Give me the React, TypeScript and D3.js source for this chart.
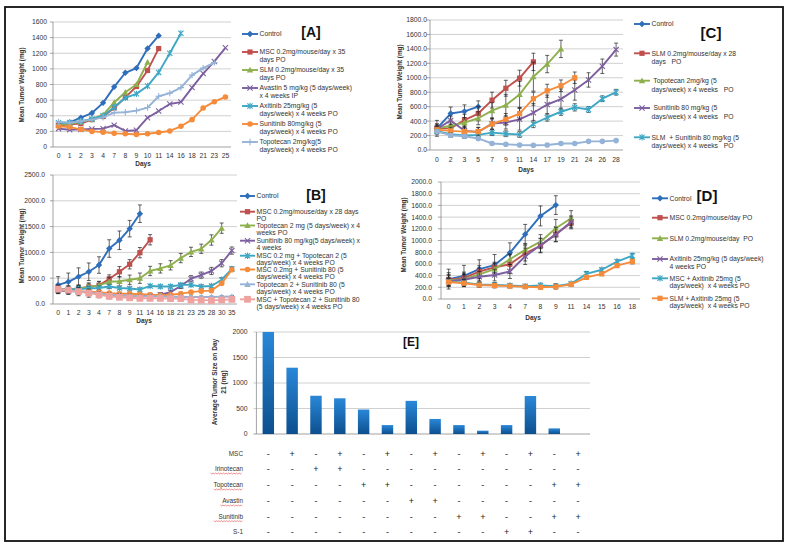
import React from 'react';
import * as d3 from 'd3';

const FONT = "'Liberation Sans', Arial, sans-serif";

// ---------- Panel A ----------
const A_days = ['0','1','2','3','4','7','8','9','10','11','14','16','18','21','23','25'];
const A_control = [295, 315, 375, 435, 565, 770, 950, 1010, 1260, 1425];
const A_msc = [275, 290, 300, 350, 390, 500, 635, 775, 980, 1260];
const A_slm = [280, 300, 320, 360, 410, 570, 700, 800, 1085];
const A_avastin = [235, 220, 225, 230, 235, 280, 205, 215, 375, 460, 550, 575, 760, 940, 1095, 1270];
const A_axitinib = [310, 315, 330, 360, 400, 510, 630, 680, 780, 955, 1200, 1455];
const A_sunitinib = [265, 255, 225, 200, 190, 175, 170, 160, 170, 185, 205, 265, 350, 500, 580, 640];
const A_topotecan = [320, 310, 330, 350, 380, 440, 445, 465, 505, 650, 690, 760, 920, 1010, 1080];
const A_legend = [
  ['Control'],
  ['MSC 0.2mg/mouse/day x 35', 'days PO'],
  ['SLM 0.2mg/mouse/day x 35', 'days PO'],
  ['Avastin 5 mg/kg (5 days/week)', 'x 4 weeks IP'],
  ['Axitinib 25mg/kg (5', 'days/week) x 4 weeks PO'],
  ['Sunitinib 80mg/kg (5', 'days/week) x 4 weeks PO'],
  ['Topotecan 2mg/kg(5', 'days/week) x 4 weeks PO'],
];

// ---------- Panel B ----------
const B_days = ['0','1','2','3','4','7','8','9','11','14','16','18','21','23','25','28','30','35'];
const B_control = [370, 430, 530, 625, 755, 1075, 1235, 1460, 1750];
const B_control_err = [160, 170, 170, 170, 160, 170, 180, 160, 170];
const B_msc = [290, 280, 300, 330, 360, 485, 625, 770, 995, 1245];
const B_msc_err = [60, 60, 60, 60, 70, 80, 100, 90, 100, 100];
const B_topotecan = [290, 280, 300, 330, 360, 430, 440, 470, 500, 640, 690, 750, 890, 1010, 1070, 1240, 1470];
const B_topotecan_err = [70, 70, 70, 80, 80, 90, 90, 90, 100, 90, 90, 90, 90, 90, 90, 100, 100];
const B_sunitinib = [260, 250, 240, 220, 200, 180, 170, 165, 160, 160, 180, 230, 350, 490, 560, 640, 790, 1035];
const B_sunitinib_err = [60, 60, 60, 60, 50, 40, 40, 40, 40, 40, 40, 40, 50, 60, 60, 70, 70, 70];
const B_mscTopo = [280, 280, 290, 300, 310, 340, 310, 300, 280, 350, 340, 340, 370, 370, 340, 350, 470, 680];
const B_mscTopo_err = [40, 40, 40, 40, 40, 40, 30, 30, 30, 30, 30, 30, 30, 30, 30, 30, 40, 40];
const B_mscSun = [270, 260, 250, 240, 230, 210, 200, 200, 190, 180, 170, 180, 200, 230, 250, 260, 400, 665];
const B_mscSun_err = [50, 50, 40, 40, 40, 30, 30, 30, 30, 30, 30, 30, 30, 30, 30, 30, 30, 30];
const B_topoSun = [280, 260, 240, 220, 200, 180, 170, 160, 150, 150, 145, 140, 135, 135, 135, 135, 140, 145];
const B_topoSun_err = [50, 50, 50, 40, 40, 30, 30, 30, 20, 20, 20, 20, 20, 20, 20, 20, 20, 20];
const B_mscTopoSun = [290, 270, 240, 210, 180, 150, 130, 120, 110, 110, 110, 105, 105, 80, 75, 70, 80, 90];
const B_mscTopoSun_err = [80, 80, 80, 80, 60, 50, 40, 30, 30, 30, 30, 30, 30, 20, 20, 20, 20, 20];
const B_legend = [
  ['Control'],
  ['MSC 0.2mg/mouse/day x 28 days', 'PO'],
  ['Topotecan 2 mg (5 days/week) x 4', 'weeks PO'],
  ['Sunitinib 80 mg/kg(5 days/week) x', '4 weeks'],
  ['MSC 0.2 mg + Topotecan 2 (5', 'days/week) x 4 weeks PO'],
  ['MSC 0.2mg + Sunitinib 80 (5', 'days/week) x 4 weeks PO'],
  ['Topotecan 2 + Sunitinib 80 (5', 'days/week) x 4 weeks PO'],
  ['MSC + Topotecan 2 + Sunitinib 80', '(5 days/week) x 4 weeks PO'],
];

// ---------- Panel C ----------
const C_days = ['0','2','3','5','7','9','11','14','17','19','21','24','26','28'];
const C_control = [300, 505, 535, 600];
const C_control_err = [110, 90, 90, 80];
const C_slm = [300, 300, 415, 505, 690, 855, 995, 1220];
const C_slm_err = [60, 60, 80, 100, 110, 110, 110, 120];
const C_topotecan = [300, 335, 380, 440, 545, 620, 770, 1015, 1190, 1400];
const C_topotecan_err = [60, 60, 70, 90, 110, 150, 180, 200, 120, 120];
const C_sunitinib = [290, 410, 265, 250, 365, 380, 425, 515, 630, 705, 830, 970, 1160, 1390];
const C_sunitinib_err = [50, 60, 60, 60, 80, 90, 150, 130, 130, 140, 140, 100, 100, 90];
const C_slmSun = [260, 220, 200, 210, 240, 225, 215, 360, 450, 530, 590, 560, 710, 800];
const C_slmSun_err = [40, 40, 40, 40, 40, 40, 40, 50, 50, 50, 50, 40, 40, 40];
const C_other1 = [280, 265, 255, 255, 360, 425, 505, 710, 820, 890, 1000];
const C_other1_err = [50, 50, 50, 60, 70, 80, 80, 90, 90, 80, 80];
const C_other2 = [255, 205, 190, 160, 90, 80, 70, 65, 70, 90, 90, 120, 120, 130];
const C_other2_err = [30, 30, 20, 20, 15, 10, 10, 10, 10, 10, 10, 10, 10, 10];
const C_legend = [
  ['Control'],
  ['SLM 0.2mg/mouse/day x 28', 'days   PO'],
  [' Topotecan 2mg/kg (5', 'days/week) x 4 weeks   PO'],
  [' Sunitinib 80 mg/kg (5', 'days/week) x 4 weeks   PO'],
  ['SLM  + Sunitinib 80 mg/kg (5', 'days/week) x 4 weeks   PO'],
];

// ---------- Panel D ----------
const D_days = ['0','1','2','3','4','7','8','9','11','14','15','16','18'];
const D_control = [340, 395, 510, 580, 790, 1105, 1420, 1605];
const D_control_err = [170, 180, 160, 180, 170, 170, 170, 160];
const D_msc = [330, 360, 470, 540, 595, 780, 910, 1110, 1300];
const D_msc_err = [120, 100, 100, 90, 160, 130, 120, 130, 100];
const D_slm = [320, 340, 420, 510, 680, 840, 980, 1210, 1380];
const D_slm_err = [100, 100, 110, 100, 90, 110, 120, 150, 130];
const D_axitinib = [310, 330, 380, 410, 470, 730, 920, 1100, 1320];
const D_axitinib_err = [90, 90, 90, 100, 120, 140, 120, 120, 100];
const D_mscAxi = [300, 280, 250, 240, 230, 220, 230, 220, 260, 430, 500, 640, 740];
const D_mscAxi_err = [60, 60, 40, 40, 30, 30, 40, 40, 30, 40, 30, 30, 40];
const D_slmAxi = [290, 270, 240, 230, 220, 210, 200, 210, 250, 370, 430, 570, 640];
const D_slmAxi_err = [60, 60, 40, 40, 30, 30, 30, 40, 30, 30, 30, 30, 40];
const D_legend = [
  ['Control'],
  ['MSC 0.2mg/mouse/day PO'],
  ['SLM 0.2mg/mouse/day  PO'],
  ['Axitinib 25mg/kg (5 days/week)', '4 weeks PO'],
  ['MSC + Axitinib 25mg (5', 'days/week)  x 4 weeks PO'],
  ['SLM + Axitinib 25mg (5', 'days/week)  x 4 weeks PO'],
];

// ---------- Panel E ----------
const E_groups = ['1','2','3','4','5','6','7','8','9','10','11','12','13','14'];
const E_values = [2000, 1300, 750, 700, 480, 175, 650, 295, 175, 65, 175, 745, 110, 0];
const E_rowNames = ['MSC', 'Irinotecan', 'Topotecan', 'Avastin', 'Sunitinib', 'S-1'];
const E_MSC        = ['-','+','-','+','-','+','-','+','-','+','-','+','-','+'];
const E_Irinotecan = ['-','-','+','+','-','-','-','-','-','-','-','-','-','-'];
const E_Topotecan  = ['-','-','-','-','+','+','-','-','-','-','-','-','+','+'];
const E_Avastin    = ['-','-','-','-','-','-','+','+','-','-','-','-','-','-'];
const E_Sunitinib  = ['-','-','-','-','-','-','-','-','+','+','-','-','+','+'];
const E_S1         = ['-','-','-','-','-','-','-','-','-','-','+','+','-','-'];
const E_rows = [E_MSC, E_Irinotecan, E_Topotecan, E_Avastin, E_Sunitinib, E_S1];

const COL = {
  blue: '#2F6EBA', red: '#C0504D', green: '#8FB04F', purple: '#7D5FA0',
  cyan: '#3EA7C4', orange: '#F58C3C', lblue: '#95B3D7', pink: '#EFA3A1',
};

type Series = { values: number[]; err?: number[]; color: string; marker: string };

function Marker({ type, x, y, color }: { type: string; x: number; y: number; color: string }) {
  const s = 2.6;
  switch (type) {
    case 'diamond':
      return <path d={`M${x},${y - 3.2}L${x + 3.2},${y}L${x},${y + 3.2}L${x - 3.2},${y}Z`} fill={color} />;
    case 'square':
      return <rect x={x - s} y={y - s} width={2 * s} height={2 * s} fill={color} />;
    case 'bigsquare':
      return <rect x={x - 3.4} y={y - 3.4} width={6.8} height={6.8} fill={color} />;
    case 'triangle':
      return <path d={`M${x},${y - 3.2}L${x + 3.2},${y + 2.6}L${x - 3.2},${y + 2.6}Z`} fill={color} />;
    case 'x':
      return <path d={`M${x - s},${y - s}L${x + s},${y + s}M${x - s},${y + s}L${x + s},${y - s}`} stroke={color} strokeWidth={1.1} fill="none" />;
    case 'star':
      return <path d={`M${x - s},${y - s}L${x + s},${y + s}M${x - s},${y + s}L${x + s},${y - s}M${x},${y - 3.2}L${x},${y + 3.2}`} stroke={color} strokeWidth={1.1} fill="none" />;
    case 'circle':
      return <circle cx={x} cy={y} r={2.8} fill={color} />;
    case 'plus':
      return <path d={`M${x - 3.2},${y}L${x + 3.2},${y}M${x},${y - 3.2}L${x},${y + 3.2}`} stroke={color} strokeWidth={1.1} fill="none" />;
    default:
      return null;
  }
}

type PanelCfg = {
  days: string[]; left: number; right: number; y0: number; yTop: number; yMax: number; step: number;
  dec: boolean; labelRight: number; tickY: number; daysX: number; daysY: number; titleX: number; titleY: number;
  series: Series[]; legend: string[][]; legX1: number; legX2: number; legTextX: number; legY: number[]; legLH: number;
  tag: string; tagX: number; tagY: number; tagSize: number; errors: boolean;
};

function LinePanel({ cfg }: { cfg: PanelCfg }) {
  const x = d3.scaleBand().domain(cfg.days).range([cfg.left, cfg.right]);
  const y = d3.scaleLinear().domain([0, cfg.yMax]).range([cfg.y0, cfg.yTop]);
  const ticks = d3.range(0, cfg.yMax + 1e-6, cfg.step);
  const cx = (i: number) => (x(cfg.days[i]) as number) + x.bandwidth() / 2;
  const fmt = cfg.dec ? d3.format('.1f') : d3.format('d');
  const line = d3.line<number>().x((_, i) => cx(i)).y((d) => y(d));
  return (
    <g>
      {ticks.map((t) => (
        <g key={t}>
          {t > 0 && <line x1={cfg.left} x2={cfg.right} y1={y(t)} y2={y(t)} stroke="#C4C4C4" strokeWidth={0.8} />}
          <line x1={cfg.left - 3} x2={cfg.left} y1={y(t)} y2={y(t)} stroke="#8C8C8C" strokeWidth={0.8} />
          <text x={cfg.labelRight} y={y(t) + 2.4} fontSize={6.8} textAnchor="end" fill="#333" fontFamily={FONT}>{fmt(t)}</text>
        </g>
      ))}
      <line x1={cfg.left} x2={cfg.left} y1={cfg.yTop} y2={cfg.y0} stroke="#8C8C8C" strokeWidth={0.8} />
      <line x1={cfg.left} x2={cfg.right} y1={cfg.y0} y2={cfg.y0} stroke="#8C8C8C" strokeWidth={0.8} />
      {cfg.days.map((d, i) => (
        <text key={d} x={cx(i)} y={cfg.tickY} fontSize={6.8} textAnchor="middle" fill="#333" fontFamily={FONT}>{d}</text>
      ))}
      <text x={cfg.daysX} y={cfg.daysY} fontSize={6.5} fontWeight="bold" textAnchor="middle" fill="#333" fontFamily={FONT}>Days</text>
      <text transform={`translate(${cfg.titleX},${cfg.titleY}) rotate(-90)`} fontSize={6.3} fontWeight="bold" textAnchor="middle" fill="#333" fontFamily={FONT}>Mean Tumor Weight (mg)</text>
      {cfg.series.map((s, si) => (
        <g key={si}>
          {cfg.errors && s.err && s.values.map((v, i) => {
            const e = s.err![i] ?? 0;
            const X = cx(i);
            return (
              <path key={i} d={`M${X},${y(v + e)}L${X},${y(Math.max(0, v - e))}M${X - 2},${y(v + e)}L${X + 2},${y(v + e)}M${X - 2},${y(Math.max(0, v - e))}L${X + 2},${y(Math.max(0, v - e))}`} stroke="#222" strokeWidth={0.7} fill="none" />
            );
          })}
          <path d={line(s.values) || ''} fill="none" stroke={s.color} strokeWidth={1.9} strokeLinejoin="round" />
          {s.values.map((v, i) => (
            <Marker key={i} type={s.marker} x={cx(i)} y={y(v)} color={s.color} />
          ))}
        </g>
      ))}
      {cfg.legend.map((lines, li) => {
        const s = cfg.series[li];
        const ly = cfg.legY[li];
        return (
          <g key={li}>
            <line x1={cfg.legX1} x2={cfg.legX2} y1={ly} y2={ly} stroke={s.color} strokeWidth={1.9} />
            <Marker type={s.marker} x={(cfg.legX1 + cfg.legX2) / 2} y={ly} color={s.color} />
            {lines.map((t, k) => (
              <text key={k} x={cfg.legTextX} y={ly + 2.4 + k * cfg.legLH} fontSize={6.8} fill="#333" fontFamily={FONT} style={{ whiteSpace: 'pre' }}>{t}</text>
            ))}
          </g>
        );
      })}
      <text x={cfg.tagX} y={cfg.tagY} fontSize={cfg.tagSize} fontWeight="bold" textAnchor="middle" fill="#111" fontFamily={FONT}>{cfg.tag}</text>
    </g>
  );
}

const panelA: PanelCfg = {
  days: A_days, left: 53, right: 231, y0: 147, yTop: 22, yMax: 1600, step: 200, dec: false, labelRight: 47,
  tickY: 157.5, daysX: 143, daysY: 165.5, titleX: 24, titleY: 85,
  series: [
    { values: A_control, color: COL.blue, marker: 'diamond' },
    { values: A_msc, color: COL.red, marker: 'square' },
    { values: A_slm, color: COL.green, marker: 'triangle' },
    { values: A_avastin, color: COL.purple, marker: 'x' },
    { values: A_axitinib, color: COL.cyan, marker: 'star' },
    { values: A_sunitinib, color: COL.orange, marker: 'circle' },
    { values: A_topotecan, color: COL.lblue, marker: 'plus' },
  ],
  legend: A_legend, legX1: 242, legX2: 258, legTextX: 259.5, legY: [34, 52, 70, 88, 106, 124, 142], legLH: 7.4,
  tag: '[A]', tagX: 311, tagY: 37, tagSize: 14, errors: false,
};

const panelB: PanelCfg = {
  days: B_days, left: 53, right: 237, y0: 304, yTop: 175, yMax: 2500, step: 500, dec: true, labelRight: 45,
  tickY: 314.5, daysX: 144, daysY: 323, titleX: 24, titleY: 246,
  series: [
    { values: B_control, err: B_control_err, color: COL.blue, marker: 'diamond' },
    { values: B_msc, err: B_msc_err, color: COL.red, marker: 'square' },
    { values: B_topotecan, err: B_topotecan_err, color: COL.green, marker: 'triangle' },
    { values: B_sunitinib, err: B_sunitinib_err, color: COL.purple, marker: 'x' },
    { values: B_mscTopo, err: B_mscTopo_err, color: COL.cyan, marker: 'star' },
    { values: B_mscSun, err: B_mscSun_err, color: COL.orange, marker: 'circle' },
    { values: B_topoSun, err: B_topoSun_err, color: COL.lblue, marker: 'triangle' },
    { values: B_mscTopoSun, err: B_mscTopoSun_err, color: COL.pink, marker: 'bigsquare' },
  ],
  legend: B_legend, legX1: 240, legX2: 255, legTextX: 256.5, legY: [196, 211.7, 225.5, 240.7, 255.7, 269.5, 284.3, 299.3], legLH: 7.3,
  tag: '[B]', tagX: 316, tagY: 200, tagSize: 14, errors: true,
};

const panelC: PanelCfg = {
  days: C_days, left: 430, right: 623, y0: 150, yTop: 20, yMax: 1800, step: 200, dec: true, labelRight: 427,
  tickY: 162, daysX: 526, daysY: 171.5, titleX: 402, titleY: 82,
  series: [
    { values: C_control, err: C_control_err, color: COL.blue, marker: 'diamond' },
    { values: C_slm, err: C_slm_err, color: COL.red, marker: 'square' },
    { values: C_topotecan, err: C_topotecan_err, color: COL.green, marker: 'triangle' },
    { values: C_sunitinib, err: C_sunitinib_err, color: COL.purple, marker: 'x' },
    { values: C_slmSun, err: C_slmSun_err, color: COL.cyan, marker: 'star' },
    { values: C_other1, err: C_other1_err, color: COL.orange, marker: 'square' },
    { values: C_other2, err: C_other2_err, color: COL.lblue, marker: 'circle' },
  ],
  legend: C_legend, legX1: 634, legX2: 650, legTextX: 651.5, legY: [24, 53.3, 80.7, 108, 137.3], legLH: 8.6,
  tag: '[C]', tagX: 711, tagY: 37.5, tagSize: 15, errors: true,
};

const panelD: PanelCfg = {
  days: D_days, left: 441, right: 640, y0: 299, yTop: 182, yMax: 2000, step: 200, dec: true, labelRight: 432,
  tickY: 309, daysX: 533, daysY: 319.5, titleX: 406, titleY: 235,
  series: [
    { values: D_control, err: D_control_err, color: COL.blue, marker: 'diamond' },
    { values: D_msc, err: D_msc_err, color: COL.red, marker: 'square' },
    { values: D_slm, err: D_slm_err, color: COL.green, marker: 'triangle' },
    { values: D_axitinib, err: D_axitinib_err, color: COL.purple, marker: 'x' },
    { values: D_mscAxi, err: D_mscAxi_err, color: COL.cyan, marker: 'star' },
    { values: D_slmAxi, err: D_slmAxi_err, color: COL.orange, marker: 'square' },
  ],
  legend: D_legend, legX1: 652, legX2: 668, legTextX: 669.5, legY: [198.3, 217.7, 238.3, 259, 278.3, 298.3], legLH: 7.7,
  tag: '[D]', tagX: 707, tagY: 200.5, tagSize: 15, errors: true,
};

function PanelE() {
  const left = 256.4, right = 590, y0 = 434, yTop = 332;
  const x = d3.scaleBand().domain(E_groups).range([left, right]);
  const y = d3.scaleLinear().domain([0, 2000]).range([y0, yTop]);
  const ticks = d3.range(0, 2001, 500);
  const bw = x.bandwidth() * 0.48;
  const rowY = [453.3, 469, 485, 501, 516.7, 531.7];
  return (
    <g>
      <defs>
        <linearGradient id="barGrad" x1="0" y1="0" x2="0" y2="1">
          <stop offset="0" stopColor="#2A88D8" />
          <stop offset="1" stopColor="#0C4F8E" />
        </linearGradient>
      </defs>
      {ticks.map((t) => (
        <g key={t}>
          <line x1={left - 3} x2={right} y1={y(t)} y2={y(t)} stroke={t === 0 ? '#8C8C8C' : '#C4C4C4'} strokeWidth={0.8} />
          <text x={247.5} y={y(t) + 2.4} fontSize={6.8} textAnchor="end" fill="#333" fontFamily={FONT}>{t}</text>
        </g>
      ))}
      <line x1={left} x2={left} y1={yTop} y2={y0} stroke="#8C8C8C" strokeWidth={0.8} />
      {E_values.map((v, i) => v > 0 && (
        <rect key={i} x={(x(E_groups[i]) as number) + (x.bandwidth() - bw) / 2} y={y(v)} width={bw} height={y0 - y(v)} fill="url(#barGrad)" />
      ))}
      <text transform="translate(217,382) rotate(-90)" fontSize={6.6} fontWeight="bold" textAnchor="middle" fill="#333" fontFamily={FONT}>Average Tumor Size on Day</text>
      <text transform="translate(225.5,382) rotate(-90)" fontSize={6.6} fontWeight="bold" textAnchor="middle" fill="#333" fontFamily={FONT}>21 (mg)</text>
      <text x={411} y={346} fontSize={12} fontWeight="bold" textAnchor="middle" fill="#111" fontFamily={FONT}>[E]</text>
      {E_rowNames.map((name, r) => {
        const w = name.length * 3.25;
        const squiggle = r >= 1 && r <= 4;
        const yy = rowY[r];
        let d = '';
        if (squiggle) {
          const pts = d3.range(243 - w, 243, 1.3);
          d = pts.map((px, k) => `${k === 0 ? 'M' : 'L'}${px.toFixed(1)},${(yy + 4.2 + (k % 2 ? 0.8 : -0.2)).toFixed(1)}`).join('');
        }
        return (
          <g key={name}>
            <text x={243} y={yy + 2.3} fontSize={6.4} textAnchor="end" fill="#333" fontFamily={FONT}>{name}</text>
            {squiggle && <path d={d} stroke="#E04040" strokeWidth={0.6} fill="none" />}
            {E_rows[r].map((s, i) => (
              <text key={i} x={(x(E_groups[i]) as number) + x.bandwidth() / 2} y={yy + 3.2} fontSize={9} textAnchor="middle" fill="#222" fontFamily={FONT}>{s}</text>
            ))}
          </g>
        );
      })}
    </g>
  );
}

export default function App() {
  return (
    <svg width={790} height={548} style={{ position: 'absolute', left: 0, top: 0, background: '#fff' }} xmlns="http://www.w3.org/2000/svg">
      <rect x={0} y={0} width={790} height={548} fill="#fff" />
      <rect x={5} y={7} width={778} height={534} fill="none" stroke="#111" strokeWidth={1.8} />
      <LinePanel cfg={panelA} />
      <LinePanel cfg={panelB} />
      <LinePanel cfg={panelC} />
      <LinePanel cfg={panelD} />
      <PanelE />
    </svg>
  );
}
